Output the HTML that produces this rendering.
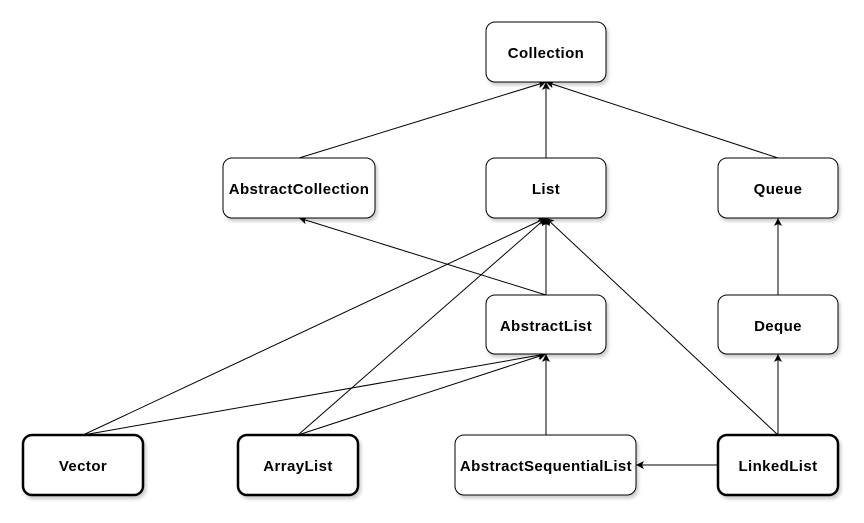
<!DOCTYPE html>
<html><head><style>body{margin:0;background:#fff}svg{display:block}text{font-family:"Liberation Sans",Arial,sans-serif;font-weight:bold;font-size:15px;letter-spacing:0.4px;fill:#000}</style></head>
<body>
<svg width="864" height="523" viewBox="0 0 864 523" xmlns="http://www.w3.org/2000/svg">
<defs>
<marker id="a" markerWidth="10" markerHeight="10" refX="9" refY="5" orient="auto" markerUnits="userSpaceOnUse">
<path d="M1,1 L9,5 L1,9 L3,5 Z" fill="#000"/></marker>
<filter id="s" x="-10%" y="-10%" width="130%" height="130%"><feDropShadow dx="2" dy="3" stdDeviation="1.5" flood-color="#000" flood-opacity="0.2"/></filter>
</defs>
<g stroke="#000" stroke-width="1" fill="none" marker-end="url(#a)">
<line x1="299" y1="158" x2="546" y2="82"/>
<line x1="546" y1="158" x2="546" y2="82"/>
<line x1="778" y1="158" x2="546" y2="82"/>
<line x1="546" y1="295" x2="299" y2="218"/>
<line x1="546" y1="295" x2="546" y2="218"/>
<line x1="83" y1="435" x2="546" y2="218"/>
<line x1="83" y1="435" x2="546" y2="354"/>
<line x1="298" y1="435" x2="546" y2="218"/>
<line x1="298" y1="435" x2="546" y2="354"/>
<line x1="546" y1="435" x2="546" y2="354"/>
<line x1="778" y1="435" x2="546" y2="218"/>
<line x1="778" y1="435" x2="778" y2="354"/>
<line x1="718" y1="465" x2="636" y2="465"/>
<line x1="778" y1="295" x2="778" y2="218"/>
</g>
<g fill="#fff" stroke="#000" filter="url(#s)">
<rect x="486" y="22" width="120" height="60" rx="9"/>
<rect x="223" y="158" width="152" height="60" rx="9"/>
<rect x="486" y="158" width="120" height="60" rx="9"/>
<rect x="718" y="158" width="120" height="60" rx="9"/>
<rect x="486" y="295" width="120" height="59" rx="9"/>
<rect x="718" y="295" width="120" height="59" rx="9"/>
<rect x="455" y="435" width="181" height="60" rx="9"/>
<rect x="23" y="435" width="120" height="60" rx="9" stroke-width="2.5"/>
<rect x="238" y="435" width="120" height="60" rx="9" stroke-width="2.5"/>
<rect x="718" y="435" width="120" height="60" rx="9" stroke-width="2.5"/>
</g>
<g text-anchor="middle">
<text x="546" y="58">Collection</text>
<text x="299" y="194">AbstractCollection</text>
<text x="546" y="194">List</text>
<text x="778" y="194">Queue</text>
<text x="546" y="331">AbstractList</text>
<text x="778" y="331">Deque</text>
<text x="546" y="471">AbstractSequentialList</text>
<text x="83" y="471">Vector</text>
<text x="298" y="471">ArrayList</text>
<text x="778" y="471">LinkedList</text>
</g>
</svg>
</body></html>
